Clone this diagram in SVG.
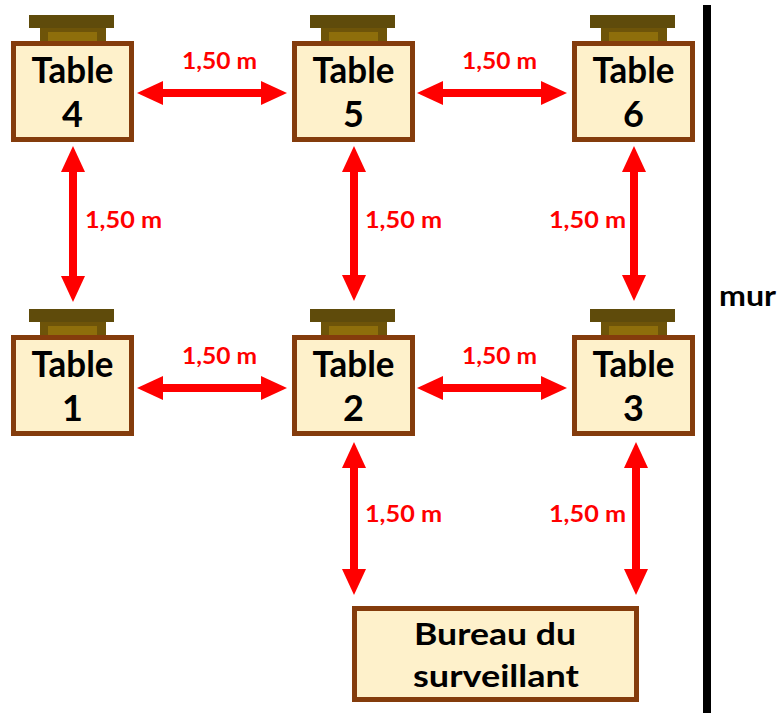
<svg xmlns="http://www.w3.org/2000/svg" xmlns:xlink="http://www.w3.org/1999/xlink" width="778" height="713" viewBox="0 0 778 713">
<style>
.box{fill:#FEF1CB;stroke:#843C0C;stroke-width:5}
.bar{fill:#5F4B0B}
.leg{fill:#6E5409}
.inner{fill:#8E6E0B}
.t{font-family:Lato,"Liberation Sans",sans-serif;font-weight:bold;font-size:36px;fill:#000;text-anchor:middle}
.b{font-family:Lato,"Liberation Sans",sans-serif;font-weight:bold;font-size:31px;fill:#000;text-anchor:middle}
.lbl{font-family:Lato,"Liberation Sans",sans-serif;font-weight:bold;font-size:22px;fill:#FF0000}
.arr{stroke:#FF0000;stroke-width:8;fill:none;marker-start:url(#head);marker-end:url(#head)}
</style>
<defs>
<marker id="head" markerUnits="userSpaceOnUse" markerWidth="26" markerHeight="24" refX="6" refY="12" orient="auto-start-reverse" viewBox="0 0 26 24">
<path d="M0,0 L26,12 L0,24 z" fill="#FF0000"/>
</marker>
<g id="tbl">
<rect class="bar" x="18" y="-26" width="85" height="13"/>
<rect class="leg" x="29" y="-13" width="66" height="13"/>
<rect class="inner" x="37" y="-9" width="49" height="9"/>
<rect class="box" x="2.5" y="2.5" width="118" height="96"/>
</g>
</defs>
<rect x="0" y="0" width="778" height="713" fill="#FFFFFF"/>
<g id="wall">
<rect x="703" y="5" width="8" height="708" fill="#000"/>
<text x="719" y="306" font-family="Lato,'Liberation Sans',sans-serif" font-weight="bold" font-size="28" textLength="57" lengthAdjust="spacingAndGlyphs">mur</text>
</g>
<g id="table4" transform="translate(11,41)">
<use xlink:href="#tbl"/>
<text class="t" x="61.5" y="42" textLength="82" lengthAdjust="spacingAndGlyphs">Table</text>
<text class="t" x="61.5" y="86">4</text>
</g>
<g id="table5" transform="translate(292,41)">
<use xlink:href="#tbl"/>
<text class="t" x="61.5" y="42" textLength="82" lengthAdjust="spacingAndGlyphs">Table</text>
<text class="t" x="61.5" y="86">5</text>
</g>
<g id="table6" transform="translate(572,41)">
<use xlink:href="#tbl"/>
<text class="t" x="61.5" y="42" textLength="82" lengthAdjust="spacingAndGlyphs">Table</text>
<text class="t" x="61.5" y="86">6</text>
</g>
<g id="table1" transform="translate(11,335)">
<use xlink:href="#tbl"/>
<text class="t" x="61.5" y="42" textLength="82" lengthAdjust="spacingAndGlyphs">Table</text>
<text class="t" x="61.5" y="86">1</text>
</g>
<g id="table2" transform="translate(292,335)">
<use xlink:href="#tbl"/>
<text class="t" x="61.5" y="42" textLength="82" lengthAdjust="spacingAndGlyphs">Table</text>
<text class="t" x="61.5" y="86">2</text>
</g>
<g id="table3" transform="translate(572,335)">
<use xlink:href="#tbl"/>
<text class="t" x="61.5" y="42" textLength="82" lengthAdjust="spacingAndGlyphs">Table</text>
<text class="t" x="61.5" y="86">3</text>
</g>
<g id="bureau">
<rect class="box" x="354.5" y="608.5" width="282" height="91"/>
<text class="b" x="495" y="645" textLength="162" lengthAdjust="spacingAndGlyphs">Bureau du</text>
<text class="b" x="496" y="687" textLength="166" lengthAdjust="spacingAndGlyphs">surveillant</text>
</g>
<g id="connectors">
<line class="arr" x1="157" y1="93" x2="267" y2="93"/>
<line class="arr" x1="437" y1="93" x2="547" y2="93"/>
<line class="arr" x1="157" y1="388" x2="267" y2="388"/>
<line class="arr" x1="437" y1="388" x2="547" y2="388"/>
<line class="arr" x1="73" y1="166" x2="73" y2="282"/>
<line class="arr" x1="354" y1="166" x2="354" y2="281"/>
<line class="arr" x1="634" y1="166" x2="634" y2="281"/>
<line class="arr" x1="354" y1="462" x2="354" y2="575"/>
<line class="arr" x1="636" y1="462" x2="636" y2="575"/>
<text class="lbl" x="182" y="69" textLength="75" lengthAdjust="spacingAndGlyphs">1,50 m</text>
<text class="lbl" x="462" y="69" textLength="75" lengthAdjust="spacingAndGlyphs">1,50 m</text>
<text class="lbl" x="182" y="364" textLength="75" lengthAdjust="spacingAndGlyphs">1,50 m</text>
<text class="lbl" x="462" y="364" textLength="75" lengthAdjust="spacingAndGlyphs">1,50 m</text>
<text class="lbl" x="85" y="228" textLength="77" lengthAdjust="spacingAndGlyphs">1,50 m</text>
<text class="lbl" x="365" y="228" textLength="77" lengthAdjust="spacingAndGlyphs">1,50 m</text>
<text class="lbl" x="549" y="228" textLength="77" lengthAdjust="spacingAndGlyphs">1,50 m</text>
<text class="lbl" x="365" y="522" textLength="77" lengthAdjust="spacingAndGlyphs">1,50 m</text>
<text class="lbl" x="549" y="522" textLength="77" lengthAdjust="spacingAndGlyphs">1,50 m</text>
</g>
</svg>
